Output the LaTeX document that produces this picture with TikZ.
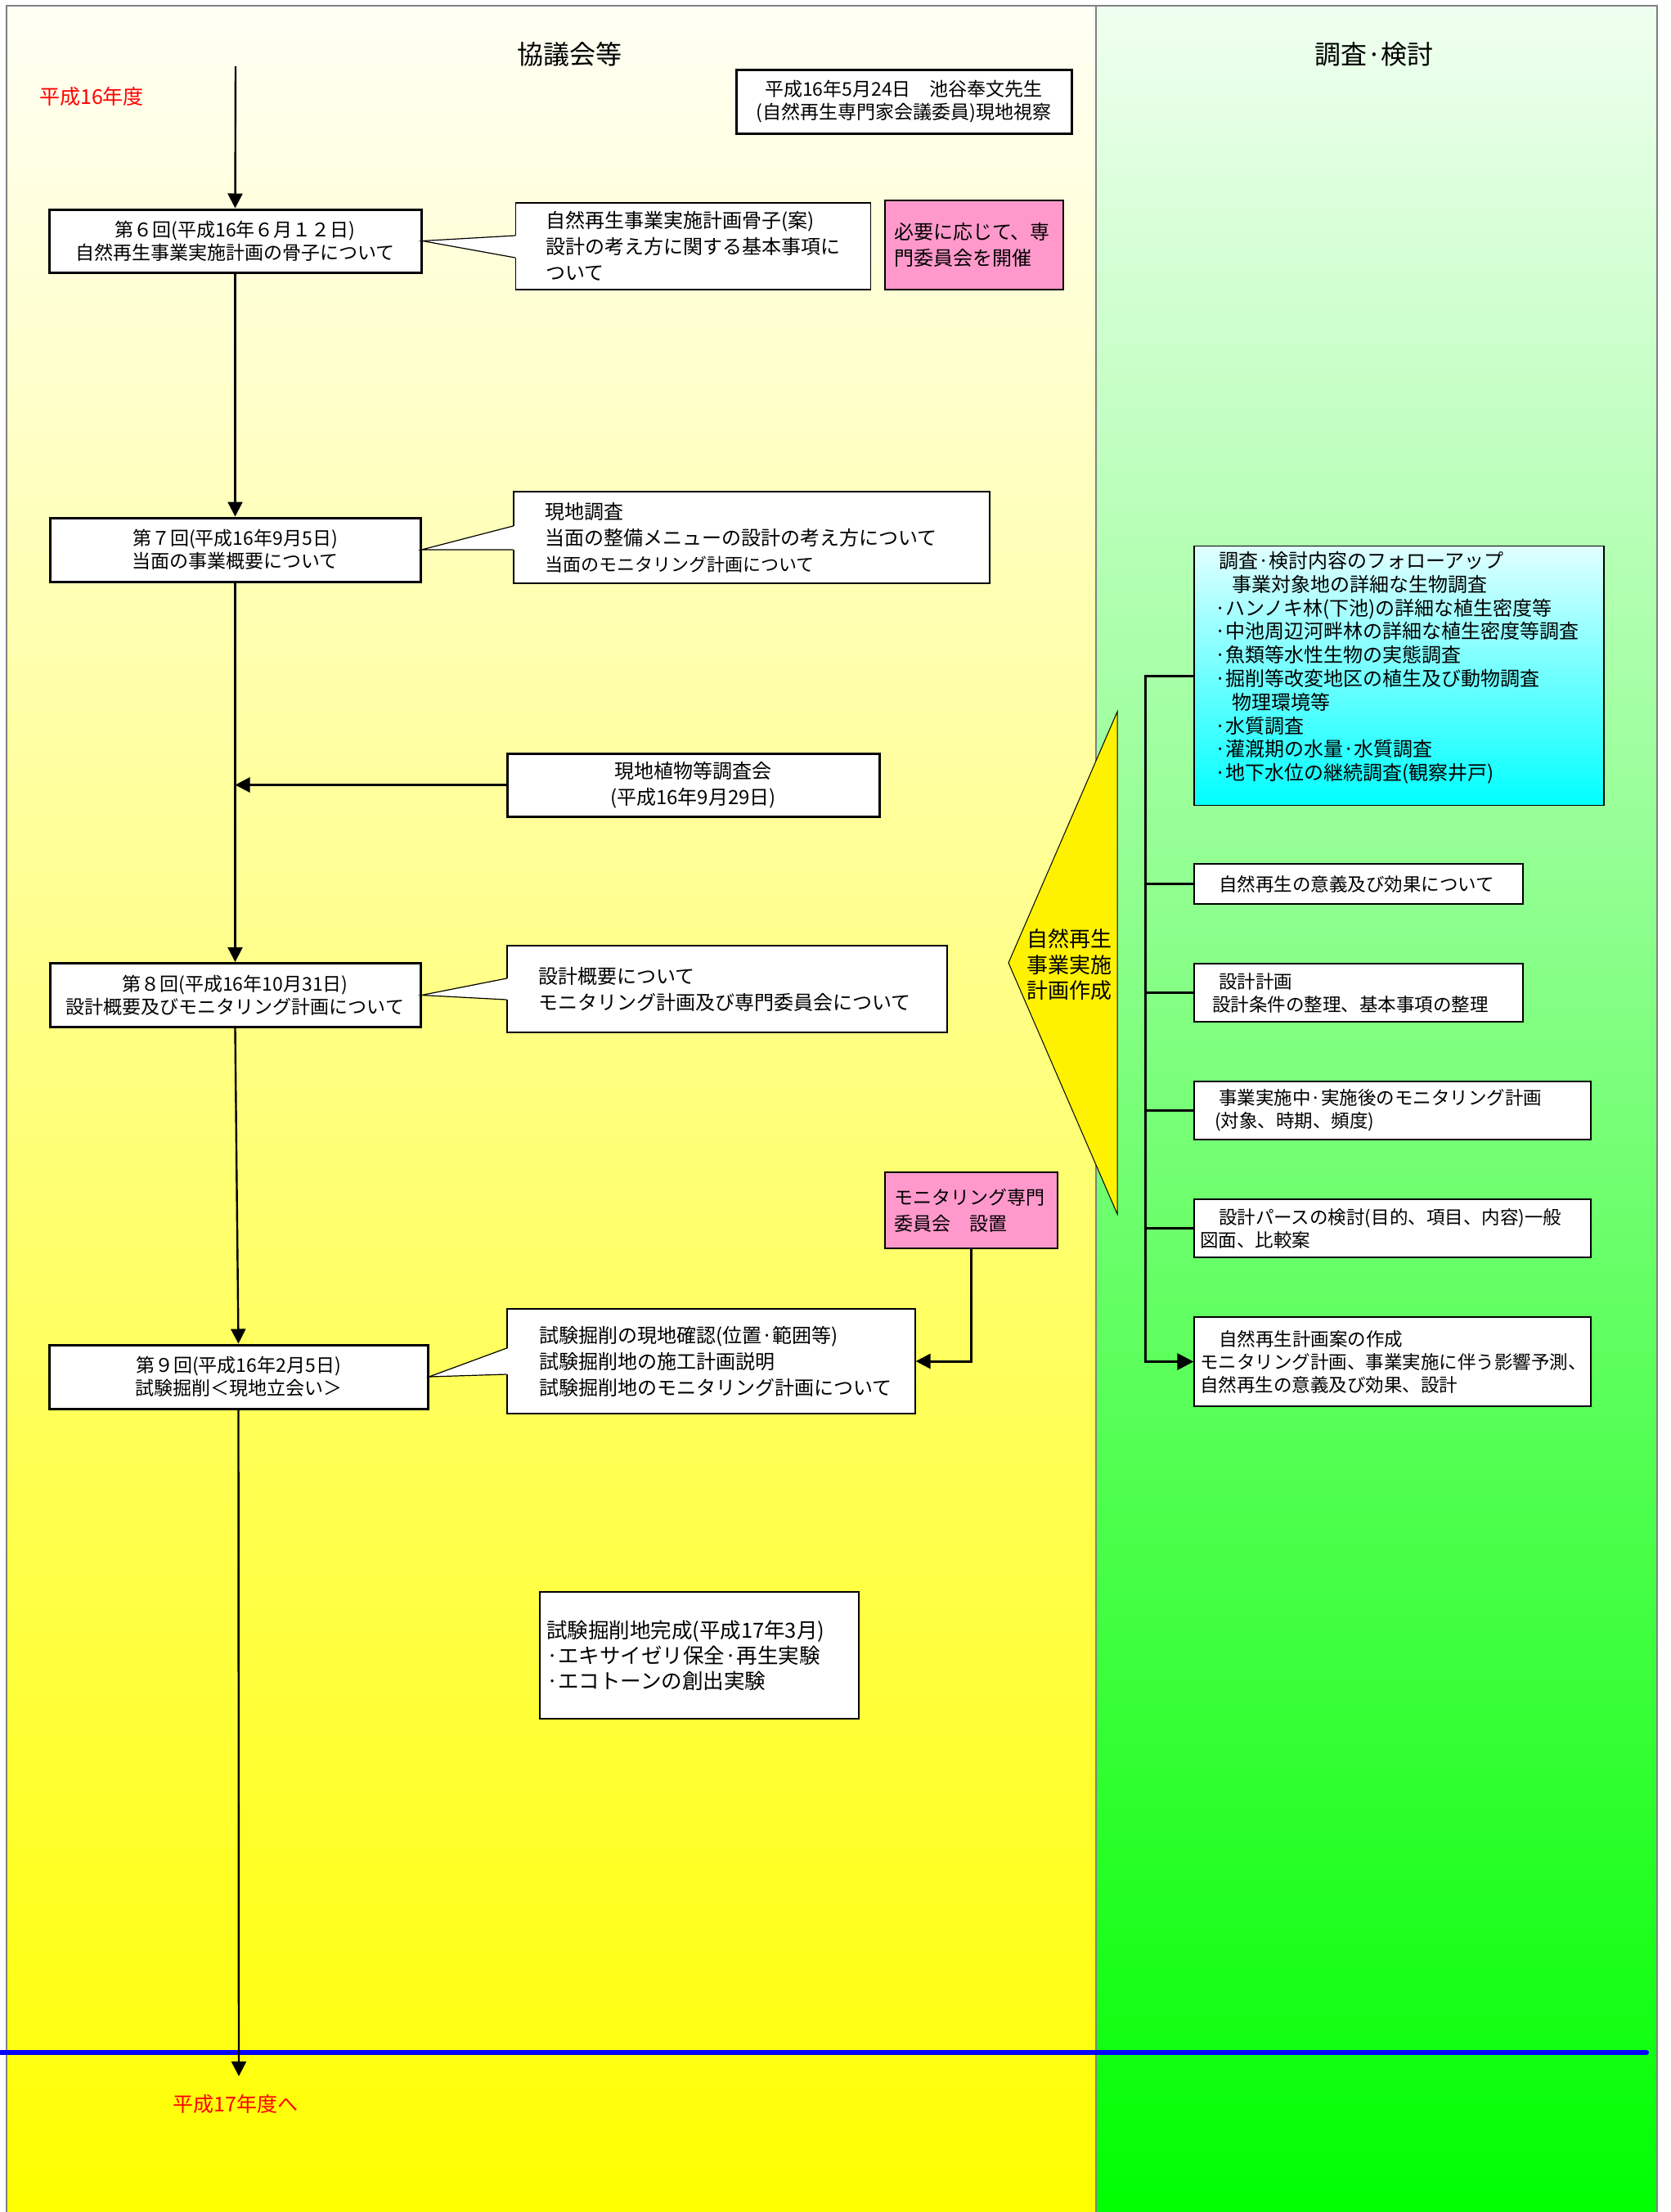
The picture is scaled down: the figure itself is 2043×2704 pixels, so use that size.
\documentclass[tikz,border=0pt]{standalone}
\usepackage{fontspec}
\setmainfont{Noto Sans CJK JP}
\usetikzlibrary{arrows.meta,calc}
\definecolor{notepink}{HTML}{FF99CC}
\definecolor{framegray}{HTML}{808080}

\begin{document}
\begin{tikzpicture}[x=0.5pt, y=0.5pt,
    meeting/.style={draw, line width=1.5pt, fill=white, align=center, minimum width=226.5pt, minimum height=39pt, font=\fontsize{11.5}{14}\selectfont},
    note/.style={draw, line width=0.6pt, fill=white, align=left, font=\fontsize{12}{16}\selectfont},
    pinknote/.style={note, fill=notepink},
    plan/.style={draw, line width=0.6pt, fill=white, align=left, font=\fontsize{11.25}{14}\selectfont},
    flow/.style={line width=1.2pt, -{Triangle[length=9pt,width=9pt]}},
    branch/.style={line width=1.5pt}]
    \useasboundingbox (0,0) rectangle (2043,-2704);
    \fill[white] (0,0) rectangle (2043,-2704);
    \shade[top color=yellow!4!white, bottom color=yellow] (8,-7) rectangle (1340,-2704);
    \shade[top color=green!6!white, bottom color=green] (1340,-7) rectangle (2026,-2704);
    \draw[framegray, line width=0.75pt] (8,-2704) -- (8,-7) -- (2026,-7) -- (2026,-2704);
    \draw[framegray, line width=0.75pt] (1340,-7) -- (1340,-2704);
    \draw[blue, line width=3pt, line cap=round] (0,-2509) -- (2013,-2509);

    \node[font=\fontsize{16}{18}\selectfont] (hdrmeet) at (696,-66) {協議会等};
    \node[font=\fontsize{16}{18}\selectfont] (hdrstudy) at (1680,-66) {調査·検討};
    \node[red, font=\fontsize{12.5}{15}\selectfont] (fy16) at (112,-118) {平成16年度};
    \node[red, font=\fontsize{12.5}{15}\selectfont] (fy17) at (288,-2572) {平成17年度へ};

    \node[meeting, minimum width=205pt] (visit) at (1105,-124) {平成16年5月24日　池谷奉文先生\\(自然再生専門家会議委員)現地視察};
    \node[meeting, minimum width=227.5pt, minimum height=38.5pt] (m6) at (287.5,-294.5) {第６回(平成16年６月１２日)\\自然再生事業実施計画の骨子について};
    \node[meeting] (m7) at (287.5,-672) {第７回(平成16年9月5日)\\当面の事業概要について};
    \node[meeting] (m8) at (287.5,-1216.5) {第８回(平成16年10月31日)\\設計概要及びモニタリング計画について};
    \node[meeting, minimum width=231.5pt] (m9) at (291.5,-1683) {第９回(平成16年2月5日)\\試験掘削＜現地立会い＞};
    \node[meeting, font=\fontsize{12}{16}\selectfont, minimum width=227.5pt, minimum height=38.5pt] (survey) at (847.5,-959.5) {現地植物等調査会\\(平成16年9月29日)};

    \node[note, text width=180pt, inner xsep=18.5pt, minimum height=53pt] (c6) at (847.5,-301) {自然再生事業実施計画骨子(案)\\設計の考え方に関する基本事項に\\ついて};
    \node[note, text width=253pt, inner xsep=19pt, minimum height=56pt] (c7) at (919,-657) {現地調査\\当面の整備メニューの設計の考え方について\\{\fontsize{11}{16}\selectfont 当面のモニタリング計画について}};
    \node[note, text width=231pt, inner xsep=19pt, minimum height=53pt] (c8) at (889,-1209) {設計概要について\\モニタリング計画及び専門委員会について};
    \node[note, text width=210.5pt, inner xsep=19.5pt, minimum height=64pt] (c9) at (869.5,-1664) {試験掘削の現地確認(位置·範囲等)\\試験掘削地の施工計画説明\\試験掘削地のモニタリング計画について};
    \node[pinknote, text width=98pt, inner xsep=5.5pt, minimum height=54.5pt] (pink1) at (1191,-299.5) {必要に応じて、専\\門委員会を開催};
    \node[pinknote, font=\fontsize{11.5}{16}\selectfont, text width=94.5pt, inner xsep=5.5pt, minimum height=46.5pt] (pink2) at (1187.5,-1479.5) {モニタリング専門\\委員会　設置};
    \node[note, font=\fontsize{12.75}{15.5}\selectfont, text width=187pt, inner xsep=4pt, minimum height=77.5pt] (done) at (855,-2023.5) {試験掘削地完成(平成17年3月)\\·エキサイゼリ保全·再生実験\\·エコトーンの創出実験};

    \fill[white] ($(c6.west)+(2,13)$) -- (m6.east) -- ($(c6.west)+(2,-14)$) -- cycle;
    \draw[line width=0.6pt] ($(c6.west)+(0,13)$) -- (m6.east) -- ($(c6.west)+(0,-14)$);
    \fill[white] ($(c7.west)+(2,14)$) -- (m7.east) -- ($(c7.west)+(2,-15)$) -- cycle;
    \draw[line width=0.6pt] ($(c7.west)+(0,14)$) -- (m7.east) -- ($(c7.west)+(0,-15)$);
    \fill[white] ($(c8.west)+(2,13)$) -- (m8.east) -- ($(c8.west)+(2,-13)$) -- cycle;
    \draw[line width=0.6pt] ($(c8.west)+(0,13)$) -- (m8.east) -- ($(c8.west)+(0,-13)$);
    \fill[white] ($(c9.west)+(2,16)$) -- (m9.east) -- ($(c9.west)+(2,-16)$) -- cycle;
    \draw[line width=0.6pt] ($(c9.west)+(0,16)$) -- (m9.east) -- ($(c9.west)+(0,-16)$);

    \coordinate (start) at (288,-81);
    \coordinate (next) at (292,-2538);
    \draw[flow] (start) -- (m6.north);
    \draw[flow] (m6.south) -- (m7.north);
    \draw[flow] (m7.south) -- (m8.north);
    \draw[flow] (m8.south) -- (m9.north);
    \draw[flow] (m9.south) -- (next);
    \draw[flow, line width=1.5pt] (survey.west) -- (survey.west -| m7.south);
    \draw[flow, line width=1.5pt] (pink2.south) |- (c9.east);

    \node[plan, top color=cyan!12!white, bottom color=cyan, font=\fontsize{12}{14.4}\selectfont, text width=225.5pt, inner xsep=12.5pt, minimum height=158pt] (followup) at (1710.5,-826) {\hspace*{2.5pt}調査·検討内容のフォローアップ\\\hspace*{10.5pt}事業対象地の詳細な生物調査\\·ハンノキ林(下池)の詳細な植生密度等\\·中池周辺河畔林の詳細な植生密度等調査\\·魚類等水性生物の実態調査\\·掘削等改変地区の植生及び動物調査\\\hspace*{10.5pt}物理環境等\\·水質調査\\·灌漑期の水量·水質調査\\·地下水位の継続調査(観察井戸)\rule[-12pt]{0pt}{12pt}};
    \node[plan, text width=171pt, inner xsep=15pt, minimum height=24.5pt] (r1) at (1661,-1080.5) {自然再生の意義及び効果について};
    \node[plan, text width=179pt, inner xsep=11pt, minimum height=35.5pt] (r2) at (1661,-1213.5) {\hspace*{4pt}設計計画\\設計条件の整理、基本事項の整理};
    \node[plan, text width=217.5pt, inner xsep=12.5pt, minimum height=35.5pt] (r3) at (1702.5,-1357.5) {\hspace*{2.5pt}事業実施中·実施後のモニタリング計画\\(対象、時期、頻度)};
    \node[plan, text width=235.5pt, inner xsep=3.5pt, minimum height=35.5pt] (r4) at (1702.5,-1501.5) {\hspace*{11.5pt}設計パースの検討(目的、項目、内容)一般\\図面、比較案};
    \node[plan, text width=235.5pt, inner xsep=3.5pt, minimum height=54.5pt] (r5) at (1702.5,-1664.5) {\hspace*{11.5pt}自然再生計画案の作成\\モニタリング計画、事業実施に伴う影響予測、\\自然再生の意義及び効果、設計};

    \filldraw[fill=yellow, draw=black, line width=0.5pt] (1366,-870) -- (1233,-1177) -- (1366,-1484) -- cycle;
    \node[align=left, font=\fontsize{13}{15.75}\selectfont] (plantext) at (1307.5,-1179.5) {自然再生\\事業実施\\計画作成};

    \coordinate (spine) at (1400,-826);
    \draw[branch, -{Triangle[length=10pt,width=10pt]}] (followup.west) -- (spine) |- (r5.west);
    \draw[branch] (r1.west) -- (r1.west -| spine);
    \draw[branch] (r2.west) -- (r2.west -| spine);
    \draw[branch] (r3.west) -- (r3.west -| spine);
    \draw[branch] (r4.west) -- (r4.west -| spine);
\end{tikzpicture}
\end{document}
